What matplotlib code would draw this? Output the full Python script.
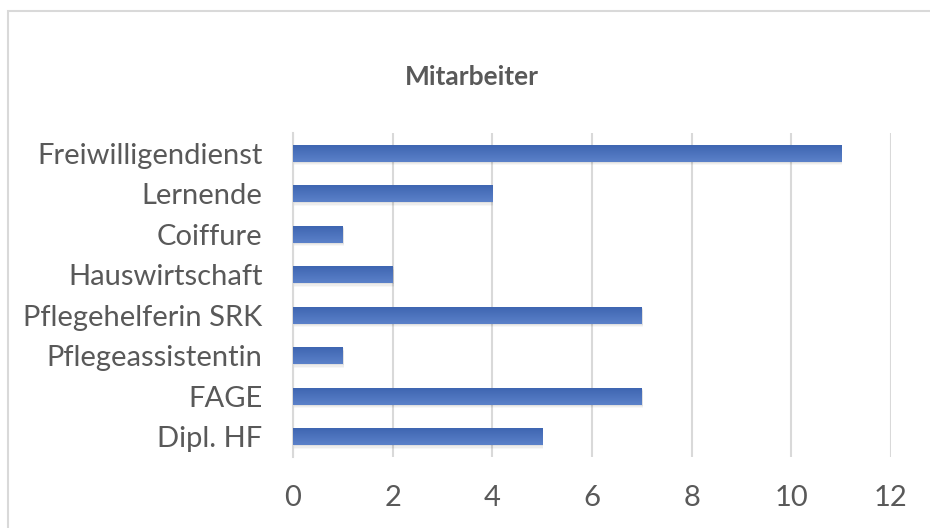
import matplotlib
matplotlib.use("Agg")
import matplotlib.pyplot as plt
import numpy as np
from matplotlib.patches import Rectangle

categories = ["Dipl. HF", "FAGE", "Pflegeassistentin", "Pflegehelferin SRK",
              "Hauswirtschaft", "Coiffure", "Lernende", "Freiwilligendienst"]
values = [5, 7, 1, 7, 2, 1, 4, 11]
xticks = [0, 2, 4, 6, 8, 10, 12]
title = "Mitarbeiter"

plt.rcParams['font.family'] = ['Lato', 'DejaVu Sans']

fig = plt.figure(figsize=(9.3, 5.28), dpi=100)
ax = fig.add_axes([293/930, 1-457/528, (891-293)/930, (457-133)/528])

# border
fig.patches.append(Rectangle((8/930, -0.1), 1.2, 1-11/528+0.1, transform=fig.transFigure,
                             fill=False, edgecolor="#d9d9d9", linewidth=1.5))

y = np.arange(len(categories))
h = 0.42
# soft shadow
for k, a in enumerate([0.05, 0.04, 0.03]):
    ax.barh(y - 0.03 * (k + 1), values, height=h, left=0.02, color="#000000",
            alpha=a, zorder=2, linewidth=0)
bars = ax.barh(y, values, height=h, color="#4472C4", zorder=3)
grad = np.linspace(0, 1, 64).reshape(-1, 1)
cmap = matplotlib.colors.LinearSegmentedColormap.from_list("g", ["#5b81c9", "#3d64b0"])
for b in bars:
    x0, y0 = b.get_x(), b.get_y()
    w, hh = b.get_width(), b.get_height()
    im = ax.imshow(grad, extent=(x0, x0 + w, y0 + hh, y0), aspect="auto", cmap=cmap,
                   zorder=4, origin="upper")
    im.set_clip_path(b)

ax.set_xlim(0, 12)
ax.set_ylim(-0.5, len(categories) - 0.5)
ax.set_xticks(xticks)
ax.set_yticks(y)
ax.set_yticklabels(categories)
ax.tick_params(axis="both", length=0, labelsize=21, colors="#595959")
ax.tick_params(axis="x", pad=20)
ax.tick_params(axis="y", pad=22)
ax.grid(axis="x", color="#d9d9d9", linewidth=1.5, zorder=0)
ax.set_axisbelow(True)
for s in ["top", "right", "bottom"]:
    ax.spines[s].set_visible(False)
ax.spines["left"].set_color("#d9d9d9")
ax.spines["left"].set_linewidth(1.5)

fig.text(472/930, 1-77/528, title, ha="center", va="center", fontsize=19,
         fontweight="bold", color="#595959")

fig.savefig("out.png", dpi=100)
